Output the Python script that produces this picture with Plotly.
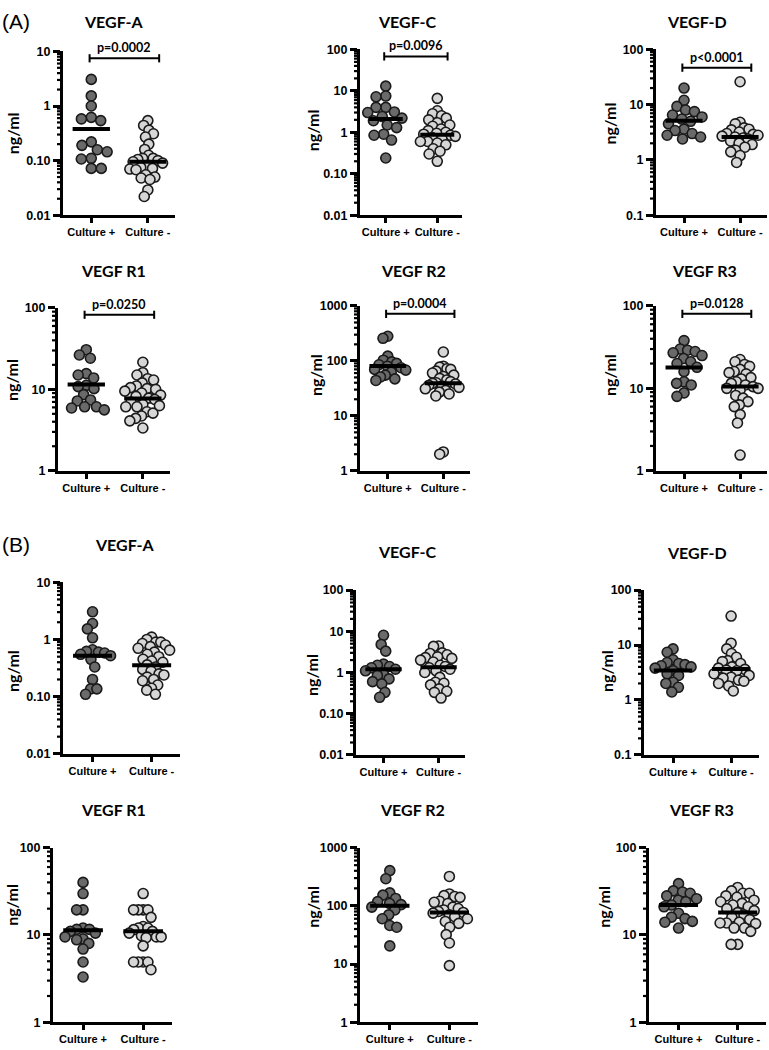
import numpy as np
import plotly.graph_objects as go

W, H = 769, 1050

categories = ["Culture +", "Culture -"]
panel_titles = ["VEGF-A", "VEGF-C", "VEGF-D", "VEGF R1", "VEGF R2", "VEGF R3"]
p_values = ["p=0.0002", "p=0.0096", "p<0.0001", "p=0.0250", "p=0.0004", "p=0.0128"]

ticks_a = ["0.01", "0.10", "1", "10"]
ticks_c = ["0.01", "0.10", "1", "10", "100"]
ticks_d = ["0.1", "1", "10", "100"]
ticks_r = ["1", "10", "100"]
ticks_r2 = ["1", "10", "100", "1000"]

# (A) ng/ml per group, plus the horizontal bar value of each group
a_vegf_a_pos = [3.07, 1.53, 1.0, 0.62, 0.58, 0.54, 0.22, 0.19, 0.158, 0.145, 0.11, 0.107, 0.072, 0.072]
a_vegf_a_neg = [0.54, 0.44, 0.36, 0.31, 0.27, 0.20, 0.16, 0.125, 0.11, 0.11, 0.105, 0.10, 0.095, 0.09,
                0.08, 0.075, 0.072, 0.07, 0.068, 0.055, 0.05, 0.048, 0.045, 0.029, 0.022]
a_vegf_a_mid = [0.38, 0.095]

a_vegf_c_pos = [13.0, 7.5, 7.2, 4.0, 4.0, 3.1, 3.0, 2.4, 2.2, 1.9, 1.5, 1.3, 0.9, 0.85, 0.65, 0.24]
a_vegf_c_neg = [6.6, 3.3, 2.8, 2.5, 2.2, 2.0, 1.7, 1.5, 1.4, 1.2, 1.1, 1.0, 0.95, 0.9, 0.85, 0.8,
                0.75, 0.7, 0.6, 0.6, 0.55, 0.5, 0.4, 0.35, 0.3, 0.2]
a_vegf_c_mid = [2.1, 0.87]

a_vegf_d_pos = [20.0, 12.0, 9.3, 8.0, 7.5, 6.5, 6.0, 5.5, 5.0, 4.5, 3.6, 3.4, 3.0, 2.8, 2.6, 2.4]
a_vegf_d_neg = [26.0, 4.8, 4.5, 3.8, 3.6, 3.5, 3.2, 3.0, 2.9, 2.8, 2.7, 2.6, 2.5, 2.4, 2.2, 2.0,
                1.9, 1.7, 1.5, 1.4, 1.2, 0.9]
a_vegf_d_mid = [5.1, 2.6]

a_r1_pos = [30.7, 26.4, 24.1, 15.6, 15.0, 13.8, 11.2, 10.8, 10.2, 8.6, 7.4, 7.2, 6.1, 6.1, 5.9, 5.6]
a_r1_neg = [21.5, 16.0, 15.0, 13.5, 13.0, 12.0, 11.0, 10.5, 10.2, 10.0, 9.5, 9.0, 8.5, 8.2, 7.8, 7.5,
            7.0, 6.5, 6.3, 6.1, 6.1, 5.3, 5.1, 4.7, 4.4, 4.1, 3.35]
a_r1_mid = [11.5, 7.7]

a_r2_pos = [281, 258, 122, 103, 96, 90, 85, 80, 75, 70, 68, 62, 55, 51, 47, 44]
a_r2_neg = [145, 80, 77, 72, 70, 65, 60, 55, 52, 48, 45, 42, 40, 39, 38, 36, 35, 33, 31, 29,
            27, 25, 23, 2.2, 2.0]
a_r2_mid = [81, 39]

a_r3_pos = [38, 30, 29, 28, 27, 25, 23, 21, 20, 18, 16, 12, 11.5, 11, 8.8, 8.0]
a_r3_neg = [22.4, 21, 19.5, 18.5, 17, 16, 15.5, 15, 13.5, 13, 12, 11.5, 11, 10.5, 10, 10, 9.5,
            8.2, 7.6, 6.9, 6.3, 6.0, 4.8, 3.8, 1.55]
a_r3_mid = [17.9, 10.5]

# (B)
b_vegf_a_pos = [3.04, 1.9, 1.53, 1.07, 0.66, 0.62, 0.6, 0.58, 0.55, 0.52, 0.45, 0.33, 0.2, 0.137, 0.137, 0.11]
b_vegf_a_neg = [1.1, 1.0, 0.9, 0.9, 0.85, 0.8, 0.75, 0.7, 0.65, 0.6, 0.55, 0.5, 0.45, 0.42, 0.4, 0.36,
                0.33, 0.3, 0.28, 0.25, 0.24, 0.22, 0.2, 0.19, 0.16, 0.14, 0.13, 0.11]
b_vegf_a_mid = [0.52, 0.356]

b_vegf_c_pos = [8.0, 4.8, 3.3, 1.6, 1.5, 1.4, 1.3, 1.2, 1.1, 0.9, 0.85, 0.7, 0.6, 0.53, 0.33, 0.25]
b_vegf_c_neg = [4.4, 4.3, 3.0, 2.9, 2.7, 2.4, 2.3, 2.2, 2.0, 1.8, 1.5, 1.4, 1.3, 1.2, 1.1, 1.0,
                0.76, 0.58, 0.55, 0.5, 0.4, 0.35, 0.33, 0.24]
b_vegf_c_mid = [1.2, 1.34]

b_vegf_d_pos = [8.5, 7.4, 5.4, 4.8, 4.6, 4.4, 4.2, 4.0, 3.8, 3.4, 3.0, 2.8, 2.1, 2.0, 1.7, 1.4]
b_vegf_d_neg = [33.7, 10.8, 8.5, 7.0, 6.0, 5.2, 5.0, 4.6, 4.0, 3.8, 3.6, 3.5, 3.4, 3.0, 2.8, 2.6,
                2.5, 2.3, 2.2, 2.0, 1.8, 1.46]
b_vegf_d_mid = [3.43, 3.67]

b_r1_pos = [40, 29.8, 19.4, 19.4, 12.0, 11.6, 11.6, 11.0, 10.5, 9.5, 9.0, 8.8, 8.0, 6.9, 4.9, 3.3]
b_r1_neg = [29.8, 19.4, 19.4, 19.4, 19.4, 15.9, 12.5, 12.0, 12.0, 11.5, 11.0, 10.5, 9.8, 9.5, 9.5,
            9.3, 7.5, 4.9, 4.9, 4.9, 4.9, 4.0]
b_r1_mid = [11.3, 11.0]

b_r2_pos = [403, 292, 167, 153, 134, 118, 110, 105, 95, 85, 70, 60, 46, 43, 20.5]
b_r2_neg = [320, 160, 150, 145, 140, 120, 115, 110, 95, 90, 85, 80, 77, 75, 70, 65, 60, 54, 50,
            43, 32, 23, 9.4]
b_r2_mid = [100, 77]

b_r3_pos = [38.7, 32, 31, 30, 28, 26, 25, 24, 22, 21, 17.7, 16, 15.4, 14.3, 14, 12]
b_r3_neg = [35, 32, 30, 30, 28, 27, 25, 24, 23, 22, 21, 20, 19, 18, 17, 16, 15, 14, 13.7, 13.7,
            13.5, 12, 12, 11, 7.8, 7.8]
b_r3_mid = [22, 18.1]

DARK, LIGHT, EDGE = "#6a6a6a", "#d6d6d6", "#1a1a1a"
XR = [-0.5, 1.48]
TICK_FONT = dict(family="Liberation Sans", size=12.5, color="black", weight="bold")
CAT_FONT = dict(family="Liberation Sans", size=11, color="black", weight="bold")
TEXT_FONT = dict(family="Lato", size=16, color="black", weight="bold")

# data, ticks, plot box in px (left, right, top, bottom), title xy, ylabel xy
panels = [
    (a_vegf_a_pos, a_vegf_a_neg, a_vegf_a_mid, ticks_a, (63, 175, 45, 211), (113, 15), (12, 128)),
    (a_vegf_c_pos, a_vegf_c_neg, a_vegf_c_mid, ticks_c, (360, 462, 43, 211), (407, 15), (312, 125)),
    (a_vegf_d_pos, a_vegf_d_neg, a_vegf_d_mid, ticks_d, (656, 767, 43, 211), (697, 15), (609, 118)),
    (a_r1_pos, a_r1_neg, a_r1_mid, ticks_r, (58, 170, 305, 470), (113, 267), (12, 378)),
    (a_r2_pos, a_r2_neg, a_r2_mid, ticks_r2, (360, 470, 303, 470), (413, 267), (315, 373)),
    (a_r3_pos, a_r3_neg, a_r3_mid, ticks_r, (656, 767, 303, 470), (704, 267), (609, 373)),
    (b_vegf_a_pos, b_vegf_a_neg, b_vegf_a_mid, ticks_a, (63, 180, 583, 757), (125, 545), (12, 673)),
    (b_vegf_c_pos, b_vegf_c_neg, b_vegf_c_mid, ticks_c, (356, 465, 591, 758), (407, 552), (312, 677)),
    (b_vegf_d_pos, b_vegf_d_neg, b_vegf_d_mid, ticks_d, (644, 759, 591, 758), (697, 553), (606, 673)),
    (b_r1_pos, b_r1_neg, b_r1_mid, ticks_r, (53, 172, 852, 1029), (113, 813), (12, 910)),
    (b_r2_pos, b_r2_neg, b_r2_mid, ticks_r2, (360, 478, 852, 1029), (412, 813), (313, 912)),
    (b_r3_pos, b_r3_neg, b_r3_mid, ticks_r, (649, 766, 852, 1029), (701, 813), (604, 912)),
]
bracket_y = [0.958, 0.958, 0.89, 0.958, 0.952, 0.952]


def swarm(values, centre, ppu_x, ppu_y, diam=10, max_half=18):
    # simple beeswarm: each point goes to the free x closest to the column centre,
    # then the group is squeezed so it stays inside its column (points may overlap a bit)
    logs = np.log10(values)
    placed = []
    offs = np.zeros(len(values))
    for i in np.argsort(-logs):
        y = logs[i] * ppu_y
        blocked = []
        for bx, by in placed:
            dy = abs(by - y)
            if dy < diam:
                dx = np.sqrt(diam ** 2 - dy ** 2)
                blocked.append((bx - dx, bx + dx))
        cands = [0.0] + [b for pair in blocked for b in pair]
        ok = [c for c in cands if all(not (lo + 1e-6 < c < hi - 1e-6) for lo, hi in blocked)]
        x = min(ok, key=lambda c: (abs(c), c))
        placed.append((x, y))
        offs[i] = x
    widest = np.abs(offs).max()
    if widest > max_half:
        offs = offs * max_half / widest
    return centre + offs / ppu_x


fig = go.Figure()
axes, shapes, annotations = {}, [], []

for k, (pos, neg, mid, ticktext, box, title_xy, ylab_xy) in enumerate(panels):
    sx = "" if k == 0 else str(k + 1)
    left, right, top, bottom = box
    tickvals = [float(t) for t in ticktext]
    lo, hi = np.log10(tickvals[0]), np.log10(tickvals[-1])
    ppu_x = (right - left) / (XR[1] - XR[0])
    ppu_y = (bottom - top) / (hi - lo)

    for vals, colour, centre in ((pos, DARK, 0), (neg, LIGHT, 1)):
        fig.add_trace(go.Scatter(
            x=swarm(vals, centre, ppu_x, ppu_y), y=vals, mode="markers",
            marker=dict(size=10, color=colour, line=dict(color=EDGE, width=1.6)),
            xaxis="x" + sx, yaxis="y" + sx, showlegend=False, cliponaxis=False
        ))
    for centre, m in zip((0, 1), mid):
        fig.add_trace(go.Scatter(
            x=[centre - 0.33, centre + 0.33], y=[m, m], mode="lines",
            line=dict(color="black", width=4),
            xaxis="x" + sx, yaxis="y" + sx, showlegend=False
        ))

    axes["xaxis" + sx] = dict(
        domain=[left / W, right / W], anchor="y" + sx, range=XR,
        tickvals=[0, 1], ticktext=categories, tickfont=CAT_FONT,
        showline=True, linewidth=3, linecolor="black", ticks="outside",
        ticklen=5, tickwidth=2.5, tickcolor="black",
        showgrid=False, zeroline=False, fixedrange=True
    )
    axes["yaxis" + sx] = dict(
        domain=[1 - bottom / H, 1 - top / H], anchor="x" + sx, type="log", range=[lo, hi],
        tickvals=tickvals, ticktext=ticktext, tickfont=TICK_FONT,
        showline=True, linewidth=3, linecolor="black", ticks="outside",
        ticklen=7, tickwidth=2.5, tickcolor="black",
        showgrid=False, zeroline=False, fixedrange=True
    )

    # minor log ticks (2..9 in every decade), short lines just left of the y axis line
    for v in tickvals[:-1]:
        for m in range(2, 10):
            frac = (np.log10(m * v) - lo) / (hi - lo)
            yp = 1 - (bottom - frac * (bottom - top)) / H
            shapes.append(dict(
                type="line", xref="paper", yref="paper", layer="above",
                x0=(left - 6) / W, x1=left / W, y0=yp, y1=yp,
                line=dict(color="black", width=2.2)
            ))

    annotations.append(dict(
        text=panel_titles[k % 6], x=title_xy[0] / W, y=1 - title_xy[1] / H,
        xref="paper", yref="paper", xanchor="center", yanchor="middle",
        showarrow=False, font=TEXT_FONT
    ))
    annotations.append(dict(
        text="ng/ml", x=ylab_xy[0] / W, y=1 - ylab_xy[1] / H, textangle=-90,
        xref="paper", yref="paper", xanchor="center", yanchor="middle",
        showarrow=False, font=TEXT_FONT
    ))

    if k < 6:
        by = bracket_y[k]
        xa, xb = -0.03, 1.2
        common = dict(type="line", xref="x" + sx, yref="y" + sx + " domain",
                      line=dict(color="black", width=2))
        shapes.append(dict(common, x0=xa, x1=xb, y0=by, y1=by))
        shapes.append(dict(common, x0=xa, x1=xa, y0=by - 0.025, y1=by + 0.025))
        shapes.append(dict(common, x0=xb, x1=xb, y0=by - 0.025, y1=by + 0.025))
        annotations.append(dict(
            text=p_values[k], x=(xa + xb) / 2, y=by, xref="x" + sx, yref="y" + sx + " domain",
            xanchor="center", yanchor="bottom", yshift=1, showarrow=False,
            font=dict(TEXT_FONT, size=12.5)
        ))

for label, ty in (("(A)", 15), ("(B)", 545)):
    annotations.append(dict(
        text=label, x=0, xanchor="left", y=1 - ty / H, yanchor="middle", xref="paper", yref="paper",
        showarrow=False, font=dict(family="Liberation Sans", size=21, color="black")
    ))

fig.update_layout(
    width=W, height=H, margin=dict(l=0, r=0, t=0, b=0),
    paper_bgcolor="white", plot_bgcolor="white",
    shapes=shapes, annotations=annotations, **axes
)

# the page body has a default 8px margin; drop it so the figure sits at the window corner
fig.write_html("out.html", config={"displayModeBar": False},
               post_script="document.body.style.margin = '0';")
